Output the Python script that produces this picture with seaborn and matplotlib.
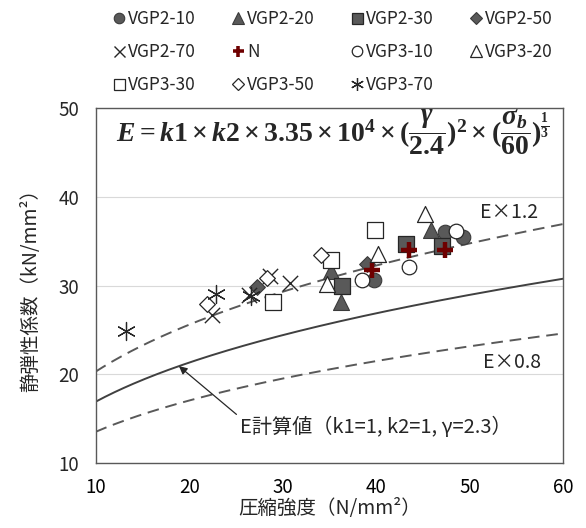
import numpy
import pandas
import matplotlib
matplotlib.use('Agg')
import matplotlib.pyplot as plt
from matplotlib.lines import Line2D
import seaborn as sns

# legend order
series_names = ['VGP2-10', 'VGP2-20', 'VGP2-30', 'VGP2-50', 'VGP2-70', 'N',
				'VGP3-10', 'VGP3-20', 'VGP3-30', 'VGP3-50', 'VGP3-70']

# compressive strength (N/mm2) and static modulus (kN/mm2)
vgp2_10_x = [39.8, 47.4, 49.3]
vgp2_10_y = [30.6, 36.0, 35.5]
vgp2_20_x = [35.2, 36.2, 45.9]
vgp2_20_y = [31.6, 28.2, 36.3]
vgp2_30_x = [36.3, 43.2, 47.0]
vgp2_30_y = [29.9, 34.7, 34.4]
vgp2_50_x = [27.2, 39.0]
vgp2_50_y = [29.8, 32.4]
vgp2_70_x = [22.4, 26.4, 28.6, 30.8]
vgp2_70_y = [26.7, 28.9, 31.1, 30.3]
n_x = [39.5, 43.5, 47.3]
n_y = [31.8, 34.0, 34.0]
vgp3_10_x = [38.5, 43.5, 48.5]
vgp3_10_y = [30.6, 32.1, 36.1]
vgp3_20_x = [34.7, 40.2, 45.2]
vgp3_20_y = [30.2, 33.6, 38.0]
vgp3_30_x = [29.0, 35.2, 39.9]
vgp3_30_y = [28.2, 32.9, 36.3]
vgp3_50_x = [21.9, 28.3, 34.1]
vgp3_50_y = [27.9, 30.9, 33.4]
vgp3_70_x = [13.2, 22.9, 26.6]
vgp3_70_y = [24.9, 29.1, 28.8]

# E = k1 x k2 x 3.35e4 x (gamma/2.4)^2 x (sigma/60)^(1/3)
k1, k2, gamma = 1.0, 1.0, 2.3
line_factors = [1.2, 1.0, 0.8]

xs = [vgp2_10_x, vgp2_20_x, vgp2_30_x, vgp2_50_x, vgp2_70_x, n_x,
	  vgp3_10_x, vgp3_20_x, vgp3_30_x, vgp3_50_x, vgp3_70_x]
ys = [vgp2_10_y, vgp2_20_y, vgp2_30_y, vgp2_50_y, vgp2_70_y, n_y,
	  vgp3_10_y, vgp3_20_y, vgp3_30_y, vgp3_50_y, vgp3_70_y]
df = pandas.DataFrame([
	(name, x, y)
	for name, sx, sy in zip(series_names, xs, ys)
	for x, y in zip(sx, sy)
], columns=['series', 'strength', 'modulus'])

def calc_e(sigma, factor=1.0):
	return factor * k1 * k2 * 3.35e4 * (gamma / 2.4) ** 2 * (sigma / 60) ** (1 / 3) / 1000

dark = '#595959'
edge = '#3a3a3a'
red = '#6e0000'
# marker, face, edge, size (pt), edge width
styles = {
	'VGP2-10': ('o', dark, edge, 10.5, 0.8),
	'VGP2-20': ('^', dark, edge, 11.5, 0.8),
	'VGP2-30': ('s', dark, '#262626', 11, 0.9),
	'VGP2-50': ('D', dark, edge, 8, 0.8),
	'VGP2-70': ('x', '#262626', '#262626', 11, 1.0),
	'N': ('+', red, red, 11, 3.2),
	'VGP3-10': ('o', 'white', '#262626', 10.5, 0.9),
	'VGP3-20': ('^', 'white', '#262626', 11.5, 0.9),
	'VGP3-30': ('s', 'white', '#262626', 11, 0.9),
	'VGP3-50': ('D', 'white', '#262626', 8, 0.9),
	'VGP3-70': ((6, 2, 0), '#262626', '#262626', 13, 0.9),
}

sns.set_theme(style='white')
plt.rcParams['font.family'] = ['Noto Sans CJK JP', 'DejaVu Sans']
plt.rcParams['mathtext.fontset'] = 'custom'
plt.rcParams['mathtext.rm'] = 'Liberation Serif:bold'
plt.rcParams['mathtext.it'] = 'Liberation Serif:bold:italic'
plt.rcParams['mathtext.bf'] = 'Liberation Serif:bold'

fig = plt.figure(figsize=(5.86, 5.28), dpi=100)
ax = fig.add_axes([0.1633, 0.1225, 0.798, 0.6735])

sigma = numpy.linspace(10, 60, 200)
for f in line_factors:
	if f == 1.0:
		sns.lineplot(x=sigma, y=calc_e(sigma, f), ax=ax, color='#404040', lw=1.4)
	else:
		sns.lineplot(x=sigma, y=calc_e(sigma, f), ax=ax, color=dark, lw=1.4,
					 linestyle=(0, (6, 3.5)))

for name in series_names:
	m, fc, ec, ms, lw = styles[name]
	sub = df[df.series == name]
	if m in ('x', '+') or isinstance(m, tuple):
		sns.scatterplot(data=sub, x='strength', y='modulus', ax=ax, marker=m,
						color=ec, s=ms ** 2, linewidth=lw, zorder=3, legend=False)
	else:
		sns.scatterplot(data=sub, x='strength', y='modulus', ax=ax, marker=m,
						facecolor=fc, edgecolor=ec, s=ms ** 2, linewidth=lw,
						zorder=3, legend=False)

ax.set_xlim(10, 60)
ax.set_ylim(10, 50)
ax.set_xticks([10, 20, 30, 40, 50, 60])
ax.set_yticks([10, 20, 30, 40, 50])
ax.yaxis.grid(True, color='#d9d9d9', lw=0.8)
ax.xaxis.grid(False)
ax.set_axisbelow(True)
for s in ax.spines.values():
	s.set_color(dark)
	s.set_linewidth(1.0)
ax.tick_params(axis='x', direction='in', length=4, width=0.9, color=dark,
			   labelsize=13.5, pad=10, labelcolor='#000000')
ax.tick_params(axis='y', length=0, labelsize=13.5, pad=12)
ax.set_xlabel('圧縮強度（N/mm²）', fontsize=14, labelpad=0)
ax.set_ylabel('静弾性係数（kN/mm²）', fontsize=14, labelpad=12)

ax.text(35.4, 47.2,
		r'$E = k1 \times k2 \times 3.35 \times 10^4 \times (\dfrac{\gamma}{2.4})^2 \times (\dfrac{\sigma_b}{60})^{\frac{1}{3}}$',
		ha='center', va='center', fontsize=20)

ax.text(51.1, 38.2, 'E×1.2', fontsize=14, va='center')
ax.text(51.4, 21.3, 'E×0.8', fontsize=14, va='center')
ax.annotate('E計算値（k1=1, k2=1, γ=2.3）', xy=(18.9, calc_e(18.9)), xytext=(25.4, 14.0),
			fontsize=14.5, va='center',
			arrowprops=dict(arrowstyle='-|>', color='#262626', lw=0.9,
							shrinkA=0, shrinkB=0, mutation_scale=12, relpos=(0, 1)))

handles = []
for name in series_names:
	m, fc, ec, ms, lw = styles[name]
	k = 0.72
	if m in ('x', '+') or isinstance(m, tuple):
		handles.append(Line2D([], [], marker=m, ls='none', color=ec, markersize=ms * k,
							  markeredgewidth=lw * (0.8 if m == '+' else 1)))
	else:
		handles.append(Line2D([], [], marker=m, ls='none', markerfacecolor=fc,
							  markeredgecolor=ec, markersize=ms * k, markeredgewidth=lw))
order = [0, 4, 8, 1, 5, 9, 2, 6, 10, 3, 7]
fig.legend([handles[i] for i in order], [series_names[i] for i in order],
		   ncol=4, loc='upper left', bbox_to_anchor=(0.175, 1.0), frameon=False,
		   fontsize=12.5, handlelength=0.7, handletextpad=0.15, columnspacing=2.1,
		   labelspacing=0.85, borderaxespad=0.2)

fig.savefig('out.png', dpi=100)
